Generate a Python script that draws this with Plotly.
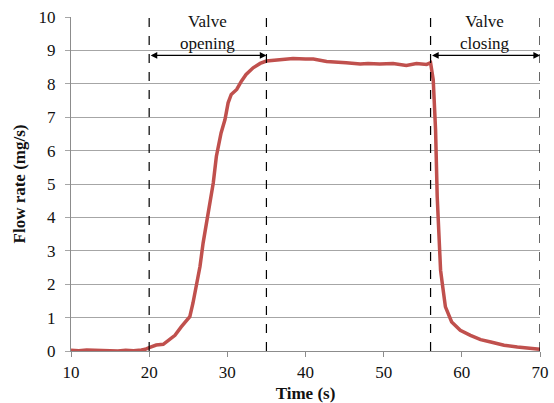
import plotly.graph_objects as go

time_s = [10, 11, 12, 13, 14, 15, 16, 17, 18, 19, 19.5, 20, 20.9, 21.8, 22.6, 23.3, 24.1,
          25.2, 25.6, 26.1, 26.5, 26.9, 27.3, 27.8, 28.2, 28.6, 28.9, 29.2, 29.7, 30.1,
          30.5, 31.2, 31.8, 32.4, 33.3, 34.2, 35, 36.7, 38.4, 40, 41, 42.7, 44, 45.2, 47,
          48, 49.5, 51.2, 52.9, 54.2, 55.5, 56, 56.34, 56.64, 56.85, 57.07, 57.28, 57.5,
          57.9, 58.7, 59.8, 61.1, 62.4, 63.7, 65.4, 67.1, 68.8, 70]
flow_mgs = [0.02, 0.01, 0.03, 0.02, 0.01, 0.02, 0.0, 0.02, 0.01, 0.03, 0.05, 0.1, 0.18, 0.2,
            0.35, 0.47, 0.72, 1.03, 1.43, 2.03, 2.53, 3.23, 3.83, 4.43, 5.03, 5.83, 6.23,
            6.53, 6.93, 7.43, 7.68, 7.83, 8.08, 8.28, 8.48, 8.61, 8.68, 8.73, 8.76, 8.74,
            8.74, 8.67, 8.66, 8.63, 8.59, 8.61, 8.59, 8.61, 8.55, 8.61, 8.58, 8.63, 8.12,
            6.62, 4.62, 3.12, 2.42, 2.02, 1.32, 0.87, 0.62, 0.47, 0.34, 0.27, 0.17, 0.12,
            0.07, 0.05]

phase_bounds = [20, 35, 56, 70]
phase_labels = ["Valve<br>opening", "Valve<br>closing"]
phase_ranges = [(20, 35), (56, 70)]
arrow_level = 8.85
label_level = 9.55

x_ticks = [10, 20, 30, 40, 50, 60, 70]
y_ticks = list(range(0, 11))

FONT = "Liberation Serif, serif"

fig = go.Figure()
fig.add_trace(go.Scatter(x=time_s, y=flow_mgs, mode="lines",
                         line=dict(color="#C0504D", width=3.5), showlegend=False))

shapes = []
for xb in phase_bounds:
    shapes.append(dict(type="line", xref="x", yref="y", x0=xb, x1=xb, y0=0, y1=10,
                       line=dict(color="black", width=1.2, dash="dash")))

annotations = []
for (a, b), lab in zip(phase_ranges, phase_labels):
    annotations.append(dict(x=b, y=arrow_level, ax=a, ay=arrow_level, xref="x", yref="y",
                            axref="x", ayref="y", text="", showarrow=True,
                            arrowside="end+start", arrowhead=2, arrowsize=1.1,
                            arrowwidth=1.2, arrowcolor="black"))
    annotations.append(dict(x=(a + b) / 2 - 0.1, y=label_level, xref="x", yref="y",
                            text=lab, showarrow=False, align="center",
                            font=dict(family=FONT, size=17, color="#111111")))

fig.update_layout(
    width=554, height=403,
    margin=dict(l=71, r=14, t=17, b=52, autoexpand=False),
    paper_bgcolor="white", plot_bgcolor="white",
    font=dict(family=FONT, size=17, color="#111111"),
    shapes=shapes, annotations=annotations,
    xaxis=dict(range=[10, 70], tickvals=x_ticks, showgrid=False, zeroline=False,
               automargin=False,
               showline=True, linecolor="#8C8C8C", linewidth=1.2,
               ticks="outside", ticklen=5, tickcolor="#8C8C8C",
               title=dict(text="<b>Time (s)</b>", font=dict(size=17), standoff=9)),
    yaxis=dict(range=[0, 10], tickvals=y_ticks, showgrid=True, gridcolor="#A6A6A6",
               automargin=False,
               gridwidth=1.2, zeroline=False, showline=True, linecolor="#8C8C8C",
               linewidth=1.2, ticks="outside", ticklen=5, tickcolor="#A6A6A6",
               ticklabelstandoff=6,
               title=dict(text="<b>Flow rate (mg/s)</b>", font=dict(size=17), standoff=8)),
)

fig.write_html("out.html")
